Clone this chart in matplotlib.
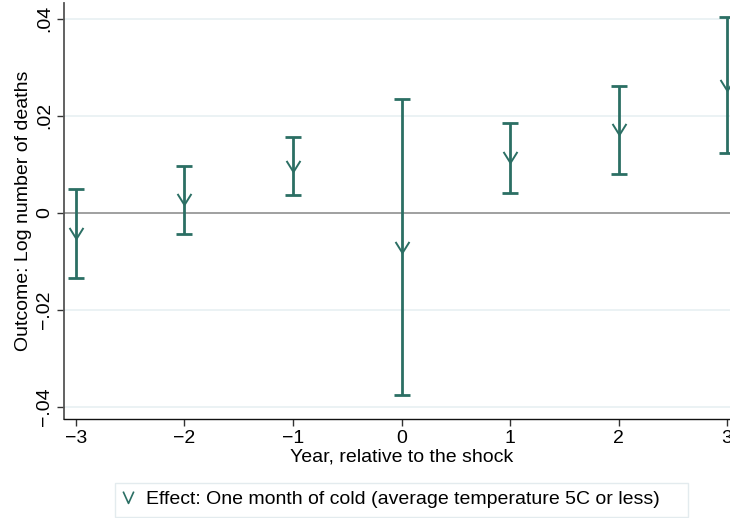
import matplotlib
matplotlib.use("Agg")
import matplotlib.pyplot as plt
from matplotlib.path import Path
from matplotlib.lines import Line2D
from matplotlib.patches import Rectangle

plt.rcParams['font.family'] = ['Liberation Sans', 'DejaVu Sans']

years = [-3, -2, -1, 0, 1, 2, 3]
effect = [-0.0042, 0.0028, 0.0097, -0.0070, 0.0114, 0.0172, 0.0263]
ci_low = [-0.0134, -0.0043, 0.0037, -0.0376, 0.0041, 0.0080, 0.0122]
ci_high = [0.0049, 0.0097, 0.0156, 0.0234, 0.0184, 0.0261, 0.0403]
yticks = [-0.04, -0.02, 0.0, 0.02, 0.04]
ytick_labels = ['\u2212.04', '\u2212.02', '0', '.02', '.04']
xtick_labels = ['\u22123', '\u22122', '\u22121', '0', '1', '2', '3']
legend_label = 'Effect: One month of cold (average temperature 5C or less)'

teal = '#2b6f64'
vmark = Path([(-1.0, 0.8), (0.0, -0.8), (1.0, 0.8)],
             [Path.MOVETO, Path.LINETO, Path.LINETO])
vmark_leg = Path([(-0.9, 1.0), (0.0, -1.0), (0.9, 1.0)],
                 [Path.MOVETO, Path.LINETO, Path.LINETO])

fig = plt.figure(figsize=(7.30, 5.18), dpi=100)
ax = fig.add_axes([64/730, 99/518, 675/730, 416/518])

for y in yticks:
    ax.axhline(y, color='#e8f0f2', lw=1.2, zorder=0)
ax.axhline(0, color='#9a9a9a', lw=1.3, zorder=1)

yerr = [[e - l for e, l in zip(effect, ci_low)], [h - e for e, h in zip(effect, ci_high)]]
ax.errorbar(years, effect, yerr=yerr, fmt='none', ecolor=teal, elinewidth=2.0,
            capsize=5.5, capthick=2.0, zorder=3)
ax.plot(years, effect, linestyle='none', marker=vmark, markersize=10,
        markerfacecolor='none', markeredgecolor=teal, markeredgewidth=1.4, zorder=4)

fs = 14
ax.set_xlim(-3.11, 3.11)
ax.set_ylim(-0.0425, 0.0432)
ax.set_xticks(years)
ax.set_xticklabels(xtick_labels, fontsize=fs)
ax.set_yticks(yticks)
ax.set_yticklabels(ytick_labels, fontsize=fs, rotation=90, va='center')
ax.tick_params(axis='both', direction='out', length=5, width=1, color='#333333', pad=3)
ax.spines['top'].set_visible(False)
ax.spines['right'].set_visible(False)
ax.spines['left'].set_color('#555555')
ax.spines['left'].set_linewidth(1.3)
ax.spines['bottom'].set_color('#111111')
ax.spines['bottom'].set_linewidth(1.0)

ax.set_xlabel('Year, relative to the shock', fontsize=fs, labelpad=1)
ax.set_ylabel('Outcome: Log number of deaths', fontsize=fs, labelpad=3)

handle = Line2D([], [], linestyle='none', marker=vmark_leg, markersize=8.5,
                markerfacecolor='none', markeredgecolor=teal, markeredgewidth=1.2)
leg = fig.legend([handle], [legend_label],
                 loc='center', bbox_to_anchor=(390/730, 1 - 499/518), frameon=False,
                 fontsize=fs, handlelength=0.8, handletextpad=0.5,
                 borderpad=0.0, borderaxespad=0)
fig.patches.append(Rectangle((115/730, 1 - 517/518), 573/730, 34/518,
                             transform=fig.transFigure, fill=False,
                             edgecolor='#e3ebee', linewidth=1.0))

fig.savefig('out.png', dpi=100)
